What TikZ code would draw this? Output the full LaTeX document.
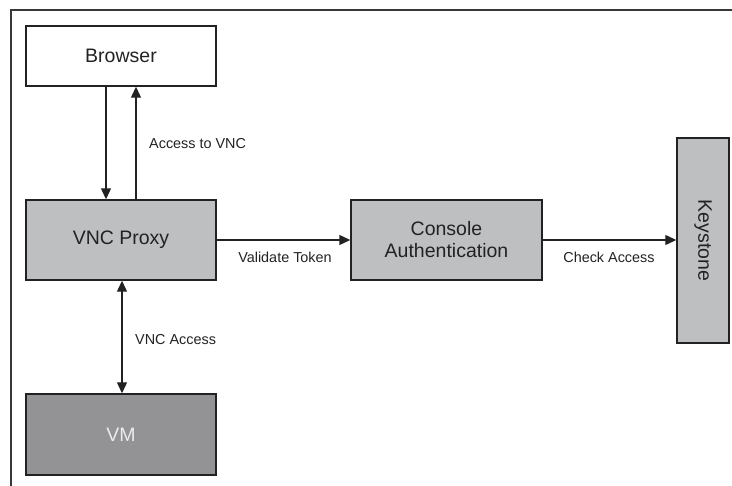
\documentclass[tikz,border=0pt]{standalone}
\usepackage{fontspec}
\setmainfont{Liberation Sans}
\usetikzlibrary{arrows.meta}
\definecolor{boxgray}{HTML}{BEBFC1}
\definecolor{vmgray}{HTML}{939396}
\definecolor{linecol}{HTML}{222222}
\tikzset{
  box/.style={draw=linecol, line width=1.4pt, rectangle, inner sep=2pt, align=center,
    font=\fontsize{19.5}{22}\selectfont, text=linecol},
  lbl/.style={font=\fontsize{14.4}{17}\selectfont, text=linecol, inner sep=0pt},
  arr/.style={draw=linecol, line width=1.2pt, -{Triangle[length=11pt,width=10pt]}},
  darr/.style={draw=linecol, line width=1.2pt, {Triangle[length=11pt,width=10pt]}-{Triangle[length=11pt,width=10pt]}},
  frame/.style={draw=linecol!90, line width=1.5pt}
}
\begin{document}
\begin{tikzpicture}[x=1pt,y=-1pt]
\useasboundingbox (0,0) rectangle (732,486);
\coordinate (f1) at (11,486);
\coordinate (f2) at (11,10);
\coordinate (f3) at (733,10);
\draw[frame] (f1) -- (f2) -- (f3);

\node[box, fill=white, minimum width=190pt, minimum height=60pt] (browser) at (121,56) {Browser};
\node[box, fill=boxgray, minimum width=190pt, minimum height=80pt] (proxy) at (121,240) {VNC Proxy};
\node[box, fill=boxgray, minimum width=191pt, minimum height=80pt] (console) at (446.5,240) {Console\\Authentication};
\node[box, fill=boxgray, rotate=-90, minimum width=205pt, minimum height=52pt] (keystone) at (703,240.5) {Keystone};
\node[box, fill=vmgray, text=white!92!black, minimum width=190pt, minimum height=81pt] (vm) at (121,434.5) {VM};

\draw[arr] ([xshift=-15pt]browser.south) -- ([xshift=-15pt]proxy.north);
\draw[arr] ([xshift=15pt]proxy.north) -- ([xshift=15pt]browser.south);
\draw[darr] ([xshift=1pt]proxy.south) -- ([xshift=1pt]vm.north);
\draw[arr] (proxy.east) -- (console.west);
\draw[arr] (console.east) -- (console.east -| keystone.south);

\node[lbl, anchor=west] (l1) at (149,144) {Access to VNC};
\node[lbl, anchor=west] (l2) at (135,340) {VNC Access};
\node[lbl] (l3) at (285,257) {Validate Token};
\node[lbl] (l4) at (609,257) {Check Access};
\end{tikzpicture}
\end{document}
